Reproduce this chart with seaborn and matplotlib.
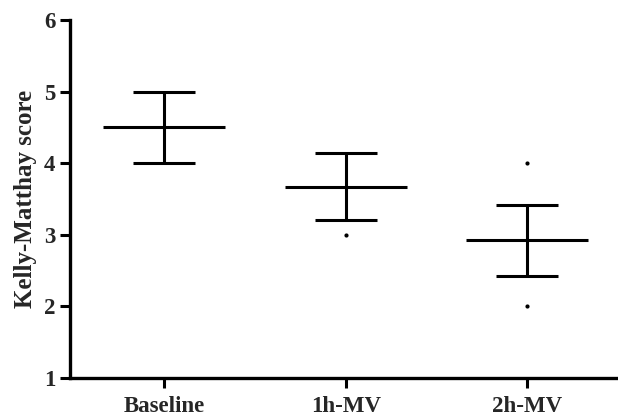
import matplotlib
matplotlib.use("Agg")
import matplotlib.pyplot as plt
import seaborn as sns
import numpy as np
import pandas as pd

categories = ["Baseline", "1h-MV", "2h-MV"]
means = [4.5, 3.67, 2.92]
upper = [5.0, 4.14, 3.42]
lower = [4.0, 3.20, 2.42]
dot_groups = ["1h-MV", "2h-MV", "2h-MV"]
dot_values = [3.0, 4.0, 2.0]
yticks = [1, 2, 3, 4, 5, 6]

sns.set_style("ticks")
plt.rcParams['font.family'] = ['Liberation Serif', 'DejaVu Serif']
plt.rcParams['font.weight'] = 'bold'

fig = plt.figure(figsize=(6.18, 4.17), dpi=100)
ax = fig.add_axes([0.113, 0.094, 0.887, 0.858])

x = np.arange(len(categories))
m = np.array(means)
err = np.vstack([m - np.array(lower), np.array(upper) - m])

dots = pd.DataFrame({"group": pd.Categorical(dot_groups, categories=categories), "value": dot_values})
sns.stripplot(data=dots, x="group", y="value", order=categories, color="black",
              size=3.0, jitter=False, ax=ax, zorder=3)

ax.errorbar(x, m, yerr=err, fmt="none", ecolor="black", elinewidth=2.2,
            capsize=22, capthick=2.2, zorder=4)
ax.hlines(m, x - 0.335, x + 0.335, color="black", linewidth=2.2, zorder=4)

ax.set_xlim(-0.52, 2.5)
ax.set_ylim(1, 6)
ax.set_yticks(yticks)
ax.set_xticks(x)
ax.set_xticklabels(categories)
ax.set_xlabel("")
ax.set_ylabel("Kelly-Matthay score", fontsize=18, fontweight="bold", labelpad=5)
ax.tick_params(axis="both", labelsize=16.5, width=2.2, length=7, color="black")
ax.tick_params(axis="x", pad=6)
for lab in ax.get_xticklabels() + ax.get_yticklabels():
    lab.set_fontweight("bold")
for s in ["top", "right"]:
    ax.spines[s].set_visible(False)
for s in ["left", "bottom"]:
    ax.spines[s].set_linewidth(2.4)
    ax.spines[s].set_color("black")

fig.savefig("out.png", dpi=100)
